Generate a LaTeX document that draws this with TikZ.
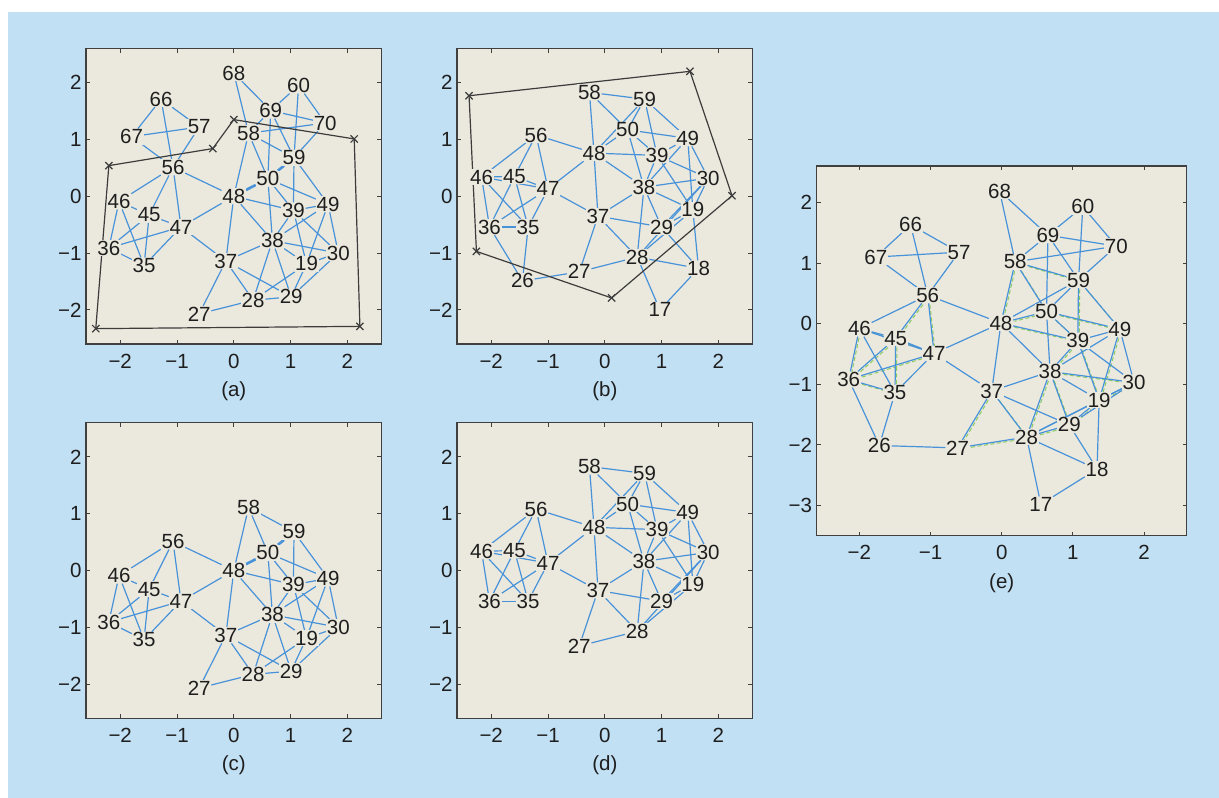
\documentclass[tikz,border=0pt]{standalone}
\usepackage{fontspec}
\setmainfont{Liberation Sans}
\usetikzlibrary{shapes.misc}

\definecolor{pagebg}{RGB}{194,224,244}
\definecolor{panelbg}{RGB}{235,233,221}
\definecolor{edgeblue}{RGB}{72,146,218}
\definecolor{framegray}{RGB}{64,64,64}
\definecolor{polygray}{RGB}{60,60,60}
\definecolor{estgreen}{RGB}{140,205,95}
\definecolor{inkgray}{RGB}{30,30,30}

\pgfdeclarelayer{panels}
\pgfdeclarelayer{links}
\pgfsetlayers{panels,links,main}

\newcommand\lblfont{\fontsize{20.5}{22}\selectfont}

\tikzset{
  lbl/.style={fill=panelbg, inner sep=0.6pt, font=\lblfont, text=inkgray},
  ticklbl/.style={font=\lblfont, inner sep=0pt, text=inkgray},
  caplbl/.style={font=\fontsize{20.5}{22}\selectfont, inner sep=0pt, text=inkgray},
  tickln/.style={draw=framegray, line width=1pt},
  edge/.style={draw=edgeblue, line width=1.2pt},
  thickedge/.style={draw=edgeblue, line width=2.6pt},
  estline/.style={draw=estgreen, line width=1pt, dash pattern=on 4pt off 2.5pt,
    transform canvas={xshift=1.3pt,yshift=-1.3pt}},
  poly/.style={draw=polygray, line width=1.2pt},
  xmark/.style={cross out, draw=polygray, line width=1.2pt, minimum size=6pt, inner sep=0pt}
}

% axes box: #1 ymin, #2 y tick list, #3 caption, #4 name prefix
\newcommand\axesbox[4]{%
  \begin{pgfonlayer}{panels}
    \fill[panelbg] (-2.6,#1) rectangle (2.6,2.6);
  \end{pgfonlayer}
  \draw[framegray, line width=1.3pt] (-2.6,#1) rectangle (2.6,2.6);
  \foreach \t/\s in {-2/−2,-1/−1,0/0,1/1,2/2}{
    \draw[tickln] (\t,#1) -- ++(0,4pt);
    \draw[tickln] (\t,2.6) -- ++(0,-4pt);
    \node[ticklbl, yshift=-17pt] (#4x\t) at (\t,#1) {\s};
  }
  \foreach \t/\s in #2{
    \draw[tickln] (-2.6,\t) -- ++(4pt,0);
    \draw[tickln] (2.6,\t) -- ++(-4pt,0);
    \node[ticklbl, anchor=east, xshift=-4.5pt] (#4y\t) at (-2.6,\t) {\s};
  }
  \node[caplbl, yshift=-47pt] (#4cap) at (0,#1) {#3};
}

% labelled points: #1 prefix, #2 list name/x/y
\newcommand\placenodes[2]{%
  \foreach \n/\x/\y in #2{\node[lbl] (#1\n) at (\x,\y) {\n};}}
% links between labelled points: #1 prefix, #2 style, #3 list u/v
\newcommand\linknodes[3]{%
  \begin{pgfonlayer}{links}
    \foreach \u/\v in #3{\draw[#2] (#1\u) -- (#1\v);}
  \end{pgfonlayer}}

\def\yticksStd{-2/−2,-1/−1,0/0,1/1,2/2}
\def\yticksE{-3/−3,-2/−2,-1/−1,0/0,1/1,2/2}

% network of panels (a) and (c)
\def\nodesAC{58/0.26/1.11, 59/1.06/0.68, 56/-1.07/0.51, 50/0.60/0.31, 48/0.00/0.00,
  46/-2.02/-0.09, 49/1.66/-0.14, 39/1.05/-0.25, 45/-1.49/-0.33, 47/-0.93/-0.54,
  38/0.68/-0.78, 36/-2.20/-0.91, 30/1.84/-1.00, 37/-0.14/-1.14, 35/-1.58/-1.22,
  19/1.28/-1.19, 29/1.01/-1.77, 28/0.34/-1.83, 27/-0.61/-2.07}
\def\nodesAextra{68/0.00/2.17, 60/1.14/1.95, 66/-1.28/1.71, 69/0.65/1.51,
  70/1.61/1.29, 57/-0.61/1.22, 67/-1.80/1.05}
\def\edgesAC{56/46, 56/45, 56/47, 56/48, 46/45, 45/47, 46/36, 46/35, 45/36, 45/35,
  47/36, 47/35, 36/35, 47/48, 47/37, 50/38, 58/59, 58/50, 58/48, 59/39, 59/49,
  50/39, 50/49, 48/39, 48/38, 48/37, 39/49, 39/38, 39/19, 39/30, 49/38, 49/19,
  49/30, 38/37, 38/30, 38/19, 38/28, 38/29, 37/28, 37/29, 37/27, 19/28, 19/29,
  30/29, 30/19, 28/29, 27/28}
\def\edgesAextra{66/67, 66/57, 66/56, 67/57, 67/56, 57/56, 68/69, 68/58, 60/69,
  60/59, 60/70, 69/70, 69/58, 69/59, 69/50, 58/70, 70/59}
\def\thickAC{59/50, 50/48}

% network of panels (b) and (d)
\def\nodesBD{58/-0.27/1.83, 59/0.70/1.71, 50/0.40/1.17, 56/-1.21/1.08, 49/1.46/1.02,
  48/-0.19/0.76, 39/0.92/0.72, 46/-2.17/0.34, 45/-1.59/0.35, 30/1.82/0.32,
  38/0.69/0.16, 47/-1.00/0.13, 19/1.55/-0.24, 37/-0.12/-0.35, 36/-2.03/-0.54,
  35/-1.35/-0.54, 29/1.00/-0.54, 28/0.57/-1.07, 27/-0.45/-1.33}
\def\nodesBextra{18/1.65/-1.27, 26/-1.45/-1.49, 17/0.97/-2.00}
\def\edgesBD{56/46, 56/45, 56/47, 56/48, 46/45, 46/47, 46/36, 46/35, 45/47, 45/36,
  45/35, 47/36, 47/35, 36/35, 47/48, 47/37, 48/37, 37/27, 58/59, 58/50, 58/48,
  59/50, 59/48, 59/39, 59/49, 50/48, 50/49, 50/39, 50/38, 48/39, 48/38, 49/39,
  49/38, 49/19, 49/30, 39/30, 39/19, 39/38, 30/38, 30/19, 30/29, 30/28, 38/37,
  38/19, 38/29, 38/28, 37/29, 37/28, 19/28, 19/29, 28/27}
\def\edgesBextra{36/26, 35/26, 26/27, 19/18, 29/18, 28/18, 28/17, 18/17}

% network of panel (e)
\def\nodesE{68/-0.03/2.19, 60/1.14/1.93, 66/-1.28/1.63, 69/0.65/1.46, 70/1.61/1.28,
  57/-0.60/1.18, 67/-1.77/1.10, 58/0.19/1.02, 59/1.08/0.72, 56/-1.04/0.47,
  50/0.63/0.20, 48/-0.01/0.01, 46/-2.00/-0.08, 49/1.66/-0.09, 45/-1.49/-0.24,
  39/1.07/-0.28, 47/-0.95/-0.49, 38/0.68/-0.79, 36/-2.15/-0.92, 30/1.86/-0.97,
  35/-1.50/-1.14, 37/-0.14/-1.11, 19/1.37/-1.26, 29/0.95/-1.67, 28/0.35/-1.87,
  26/-1.72/-2.01, 27/-0.62/-2.05, 18/1.34/-2.40, 17/0.55/-2.98}
\def\edgesE{66/67, 66/57, 66/56, 67/57, 67/56, 57/56, 56/46, 56/45, 56/47, 56/48,
  46/45, 46/47, 46/36, 46/35, 45/47, 45/36, 45/35, 47/36, 47/35, 36/35, 36/26,
  35/26, 26/27, 47/48, 47/37, 37/27, 68/69, 68/58, 60/69, 60/59, 60/70, 69/70,
  69/58, 69/59, 69/50, 50/38, 58/70, 58/59, 58/50, 58/48, 70/59, 59/50, 59/48,
  59/39, 59/49, 50/48, 50/49, 50/39, 48/39, 48/38, 48/37, 49/39, 49/38, 49/19,
  49/30, 39/38, 39/30, 39/19, 38/37, 38/30, 38/19, 38/29, 38/28, 37/29, 37/28,
  30/19, 30/29, 30/28, 19/29, 19/28, 29/28, 29/18, 28/27, 28/18, 28/17, 18/17, 19/18}
\def\greenE{58/48, 58/50, 58/59, 59/49, 59/39, 50/48, 50/49, 50/39, 48/39, 39/38,
  39/19, 49/19, 38/28, 38/29, 37/28, 37/27, 27/28, 28/29, 29/19, 19/30, 38/30,
  56/45, 56/47, 46/45, 45/47, 46/36, 36/35, 36/47, 45/35, 45/36}

\begin{document}
\begin{tikzpicture}[x=1pt,y=1pt]
\useasboundingbox (0,0) rectangle (1219,798);
\begin{pgfonlayer}{panels}
  \fill[white] (0,0) rectangle (1219,798);
  \fill[pagebg] (8,0) rectangle (1219,786);
\end{pgfonlayer}

% (a) estimated layout with anchor polygon
\begin{scope}[shift={(233.8pt,601.7pt)}, x=56.8pt, y=56.8pt]
  \axesbox{-2.6}{\yticksStd}{(a)}{a}
  \placenodes{a}{\nodesAC}
  \placenodes{a}{\nodesAextra}
  \linknodes{a}{edge}{\edgesAC}
  \linknodes{a}{edge}{\edgesAextra}
  \linknodes{a}{thickedge}{\thickAC}
  \coordinate (pa1) at (-2.20,0.54);
  \coordinate (pa2) at (-0.37,0.84);
  \coordinate (pa3) at (0.00,1.35);
  \coordinate (pa4) at (2.12,1.01);
  \coordinate (pa5) at (2.22,-2.29);
  \coordinate (pa6) at (-2.43,-2.33);
  \begin{pgfonlayer}{links}
    \draw[poly] (pa1) -- (pa2) -- (pa3) -- (pa4) -- (pa5) -- (pa6) -- cycle;
    \foreach \k in {1,...,6}{\node[xmark] (ma\k) at (pa\k) {};}
  \end{pgfonlayer}
\end{scope}

% (b) second layout with anchor polygon
\begin{scope}[shift={(604.8pt,601.7pt)}, x=56.8pt, y=56.8pt]
  \axesbox{-2.6}{\yticksStd}{(b)}{b}
  \placenodes{b}{\nodesBD}
  \placenodes{b}{\nodesBextra}
  \linknodes{b}{edge}{\edgesBD}
  \linknodes{b}{edge}{\edgesBextra}
  \coordinate (pb1) at (-2.39,1.77);
  \coordinate (pb2) at (1.50,2.20);
  \coordinate (pb3) at (2.24,0.01);
  \coordinate (pb4) at (0.12,-1.79);
  \coordinate (pb5) at (-2.26,-0.97);
  \begin{pgfonlayer}{links}
    \draw[poly] (pb1) -- (pb2) -- (pb3) -- (pb4) -- (pb5) -- cycle;
    \foreach \k in {1,...,5}{\node[xmark] (mb\k) at (pb\k) {};}
  \end{pgfonlayer}
\end{scope}

% (c) layout (a) restricted to the inner nodes
\begin{scope}[shift={(233.8pt,227.5pt)}, x=56.8pt, y=56.8pt]
  \axesbox{-2.6}{\yticksStd}{(c)}{c}
  \placenodes{c}{\nodesAC}
  \linknodes{c}{edge}{\edgesAC}
  \linknodes{c}{thickedge}{\thickAC}
\end{scope}

% (d) layout (b) restricted to the inner nodes
\begin{scope}[shift={(604.8pt,227.5pt)}, x=56.8pt, y=56.8pt]
  \axesbox{-2.6}{\yticksStd}{(d)}{d}
  \placenodes{d}{\nodesBD}
  \linknodes{d}{edge}{\edgesBD}
\end{scope}

% (e) merged layout
\begin{scope}[shift={(1001.7pt,474.3pt)}, x=71.15pt, y=60.6pt]
  \axesbox{-3.5}{\yticksE}{(e)}{e}
  \placenodes{e}{\nodesE}
  \linknodes{e}{estline}{\greenE}
  \linknodes{e}{edge}{\edgesE}
\end{scope}
\end{tikzpicture}
\end{document}
